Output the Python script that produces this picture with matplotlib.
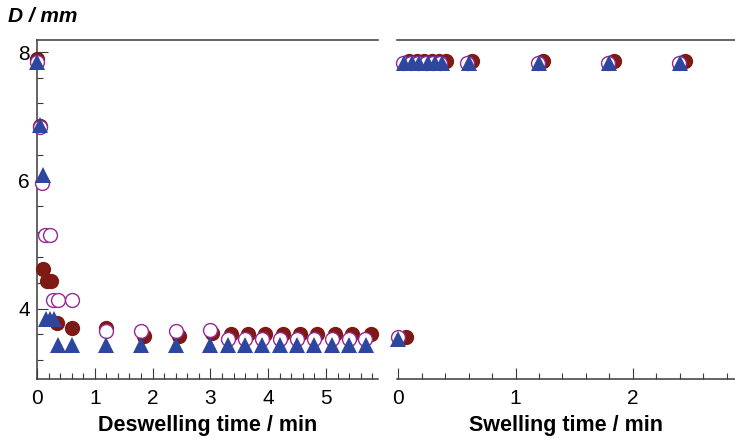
import matplotlib.pyplot as plt
from matplotlib.ticker import MultipleLocator

plt.rcParams['font.family'] = ['Liberation Sans', 'DejaVu Sans']

# deswelling run (time in min, diameter in mm)
des_t_fill = [0, 0.05, 0.1, 0.18, 0.25, 0.34, 0.6, 1.2, 1.85, 2.45, 3.03,
              3.35, 3.65, 3.95, 4.25, 4.55, 4.85, 5.15, 5.45, 5.78]
des_d_fill = [7.9, 6.85, 4.61, 4.43, 4.43, 3.77, 3.70, 3.70, 3.57, 3.57, 3.62,
              3.60, 3.60, 3.60, 3.60, 3.60, 3.60, 3.60, 3.60, 3.60]

des_t_open = [0, 0.05, 0.09, 0.14, 0.22, 0.28, 0.36, 0.6, 1.2, 1.8, 2.4, 3.0,
              3.3, 3.6, 3.9, 4.2, 4.5, 4.8, 5.1, 5.4, 5.68]
des_d_open = [7.84, 6.83, 5.96, 5.14, 5.14, 4.14, 4.14, 4.14, 3.65, 3.65, 3.65, 3.66,
              3.53, 3.53, 3.53, 3.53, 3.53, 3.53, 3.53, 3.53, 3.53]

des_t_tri = [0, 0.05, 0.1, 0.15, 0.22, 0.3, 0.37, 0.6, 1.2, 1.8, 2.4, 3.0,
             3.3, 3.6, 3.9, 4.2, 4.5, 4.8, 5.1, 5.4, 5.7]
des_d_tri = [7.84, 6.86, 6.09, 3.83, 3.83, 3.83, 3.43, 3.43, 3.43, 3.43, 3.43, 3.43,
             3.43, 3.43, 3.43, 3.43, 3.43, 3.43, 3.43, 3.43, 3.43]

# swelling run
sw_t_fill = [0.07, 0.09, 0.16, 0.22, 0.29, 0.35, 0.41, 0.63, 1.23, 1.84, 2.44]
sw_d_fill = [3.56, 7.87, 7.87, 7.87, 7.87, 7.87, 7.87, 7.87, 7.87, 7.87, 7.87]

sw_t_open = [0, 0.04, 0.11, 0.17, 0.24, 0.3, 0.36, 0.59, 1.19, 1.79, 2.39]
sw_d_open = [3.55, 7.83, 7.83, 7.83, 7.83, 7.83, 7.83, 7.83, 7.83, 7.83, 7.83]

sw_t_tri = [0, 0.05, 0.12, 0.18, 0.25, 0.31, 0.37, 0.6, 1.2, 1.8, 2.4]
sw_d_tri = [3.53, 7.83, 7.83, 7.83, 7.83, 7.83, 7.83, 7.83, 7.83, 7.83, 7.83]

red = '#7d1a14'
purple = '#962896'
blue = '#2d46a0'
axcol = '#3a3a3a'

fig = plt.figure(figsize=(7.35, 4.38), dpi=100)
ax1 = fig.add_axes([37/735, 59/438, 341/735, 339/438])
ax2 = fig.add_axes([397/735, 59/438, 338/735, 339/438])


def draw(ax, tf, df, to, do, tt, dt):
    ax.plot(tf, df, 'o', ms=11, color=red, mec=red, mew=0, clip_on=False, zorder=3)
    ax.plot(to, do, 'o', ms=10, mfc='white', mec=purple, mew=1.0, clip_on=False, zorder=4)
    ax.plot(tt, dt, '^', ms=11.5, color=blue, mew=0, clip_on=False, zorder=5)


draw(ax1, des_t_fill, des_d_fill, des_t_open, des_d_open, des_t_tri, des_d_tri)
draw(ax2, sw_t_fill, sw_d_fill, sw_t_open, sw_d_open, sw_t_tri, sw_d_tri)

for ax in (ax1, ax2):
    ax.set_ylim(2.9, 8.19)
    ax.spines['right'].set_visible(False)
    for s in ('left', 'top', 'bottom'):
        ax.spines[s].set_color(axcol)
        ax.spines[s].set_linewidth(1.1)
    ax.xaxis.set_major_locator(MultipleLocator(1))
    ax.xaxis.set_minor_locator(MultipleLocator(0.2))
    ax.tick_params(axis='x', which='major', direction='in', length=8, width=0.8,
                   color=axcol, labelsize=15, pad=7)
    ax.tick_params(axis='x', which='minor', direction='in', length=4.5, width=0.8,
                   color=axcol)

ax1.set_xlim(0, 5.9)
ax2.set_xlim(-0.01, 2.87)

ax1.yaxis.set_major_locator(MultipleLocator(2))
ax1.yaxis.set_minor_locator(MultipleLocator(0.4))
ax1.tick_params(axis='y', which='major', direction='in', length=8, width=0.8,
                color=axcol, labelsize=15, pad=5)
ax1.tick_params(axis='y', which='minor', direction='in', length=4.5, width=0.8,
                color=axcol)

ax2.spines['left'].set_visible(False)
ax2.tick_params(axis='y', left=False, labelleft=False, which='both')

ax1.set_xlabel('Deswelling time / min', fontsize=15.5, fontweight='bold', labelpad=5)
ax2.set_xlabel('Swelling time / min', fontsize=15.5, fontweight='bold', labelpad=5)

fig.text(8/735, 1 - 17/438, 'D / mm', fontsize=15, fontweight='bold', style='italic',
         ha='left', va='center')

fig.savefig('out.png', dpi=100)
